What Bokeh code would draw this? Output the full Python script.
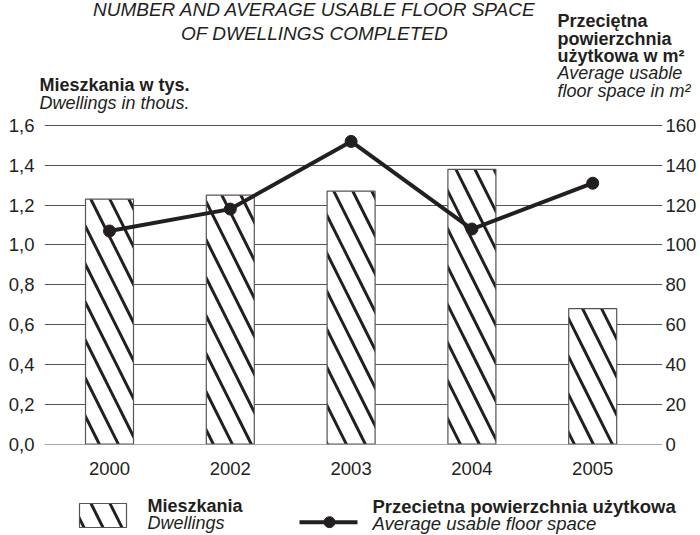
from bokeh.plotting import figure
from bokeh.models import Range1d, LinearAxis, FixedTicker, CustomJSTickFormatter
from bokeh.core.properties import value
from bokeh.embed import file_html
from bokeh.resources import INLINE

# ---------------- data ----------------
years = ["2000", "2002", "2003", "2004", "2005"]
dwellings = [1.23, 1.25, 1.27, 1.38, 0.68]          # thousands
avg_area = [107, 118, 152, 108, 131]                 # m2
y_ticks = [0.0, 0.2, 0.4, 0.6, 0.8, 1.0, 1.2, 1.4, 1.6]
y2_ticks = [0, 20, 40, 60, 80, 100, 120, 140, 160]

# ---------------- styles / layout ----------------
FONT = "Liberation Sans"
INK = "#231f20"
GRID = "#555555"
FS = "18px"
W, H = 700, 535
FL, FR, FT, FB = 44, 38, 116, 91            # borders around the plotting frame
zero_px, top_px = 443.5, 125.0              # canvas y of 0 and of 1.6
px_unit = (zero_px - top_px) / 1.6
step, x0 = 120.8, 109.0                     # px per category, canvas x of first category
TEXT_DY = -6.5                              # baseline correction for text glyphs


def dx(px):
    return (px - x0) / step


def dy(py):
    return (zero_px - py) / px_unit


x_start, x_end = dx(FL), dx(W - FR)
y_start, y_end = dy(H - FB), dy(FT)

xs = list(range(len(years)))

p = figure(width=W, height=H, x_range=Range1d(x_start, x_end),
           y_range=Range1d(y_start, y_end), output_backend="svg",
           toolbar_location=None, min_border_left=FL, min_border_right=FR,
           min_border_top=FT, min_border_bottom=FB)
p.outline_line_color = None
p.background_fill_color = "white"
p.extra_y_ranges = {"area": Range1d(y_start * 100, y_end * 100)}

yt = FixedTicker(ticks=y_ticks)
p.yaxis.ticker = yt
p.yaxis.formatter = CustomJSTickFormatter(code="return tick.toFixed(1).replace('.', ',');")
p.ygrid.ticker = yt
p.ygrid.grid_line_color = GRID
p.ygrid.grid_line_width = 1
p.xgrid.visible = False

p.xaxis.ticker = FixedTicker(ticks=xs)
p.xaxis.major_label_overrides = {i: y for i, y in enumerate(years)}

right = LinearAxis(y_range_name="area", ticker=FixedTicker(ticks=y2_ticks))
p.add_layout(right, "right")

for ax in p.axis:
    ax.axis_line_color = None
    ax.major_tick_line_color = None
    ax.minor_tick_line_color = None
    ax.major_tick_out = 0
    ax.major_tick_in = 0
    ax.major_label_text_font = FONT
    ax.major_label_text_font_size = "18.5px"
    ax.major_label_text_color = INK
p.yaxis[0].major_label_standoff = 10
right.major_label_standoff = 3
p.xaxis.major_label_standoff = 17

HATCH = dict(fill_color="white", line_color=GRID, line_width=1.2,
             hatch_pattern="\\", hatch_color=INK, hatch_weight=3, hatch_scale=38)

p.vbar(x=xs, top=dwellings, width=48 / step, bottom=0, **HATCH)
p.line(x=xs, y=avg_area, y_range_name="area", line_color=INK, line_width=4)
p.scatter(x=xs, y=avg_area, y_range_name="area", size=12, fill_color=INK, line_color=INK)


# ---------------- texts (drawn above the frame, not clipped) ----------------
def txt(px, py, s, style="normal", size=FS, align="left"):
    p.text(x=[dx(px)], y=[dy(py + TEXT_DY)], text=[s], text_font=value(FONT),
           text_font_size=size, text_font_style=style, text_color=INK,
           text_align=align, text_baseline="alphabetic", level="annotation")


txt(314, 15, "NUMBER AND AVERAGE USABLE FLOOR SPACE", "italic", "19px", "center")
txt(314, 39.3, "OF DWELLINGS COMPLETED", "italic", "19px", "center")
txt(39, 90.7, "Mieszkania w tys.", "bold")
txt(39, 108.5, "Dwellings in thous.", "italic")
txt(557, 26.7, "Przeciętna", "bold")
txt(557, 44.5, "powierzchnia", "bold")
txt(557, 62, "użytkowa w m²", "bold")
txt(557, 79.3, "Average usable", "italic")
txt(557, 96.7, "floor space in m²", "italic")

# ---------------- legend ----------------
LEG_B, LEG_I, LEG_Y = 512, 529, 521.7
p.quad(left=[dx(79)], right=[dx(126)], top=[dy(503)], bottom=[dy(527)],
       level="annotation", **HATCH)
txt(147, LEG_B, "Mieszkania", "bold")
txt(147, LEG_I, "Dwellings", "italic")
p.line(x=[dx(299), dx(357)], y=[dy(LEG_Y), dy(LEG_Y)], line_color=INK, line_width=4,
       level="annotation")
p.ellipse(x=[dx(329)], y=[dy(LEG_Y)], width=11, height=11, width_units="screen",
          height_units="screen", fill_color=INK, line_color=INK, level="annotation")
txt(372, LEG_B, "Przecietna powierzchnia użytkowa", "bold", "18.5px")
txt(372, LEG_I, "Average usable floor space", "italic", "18.5px")

open("out.html", "w").write(file_html(p, INLINE))
